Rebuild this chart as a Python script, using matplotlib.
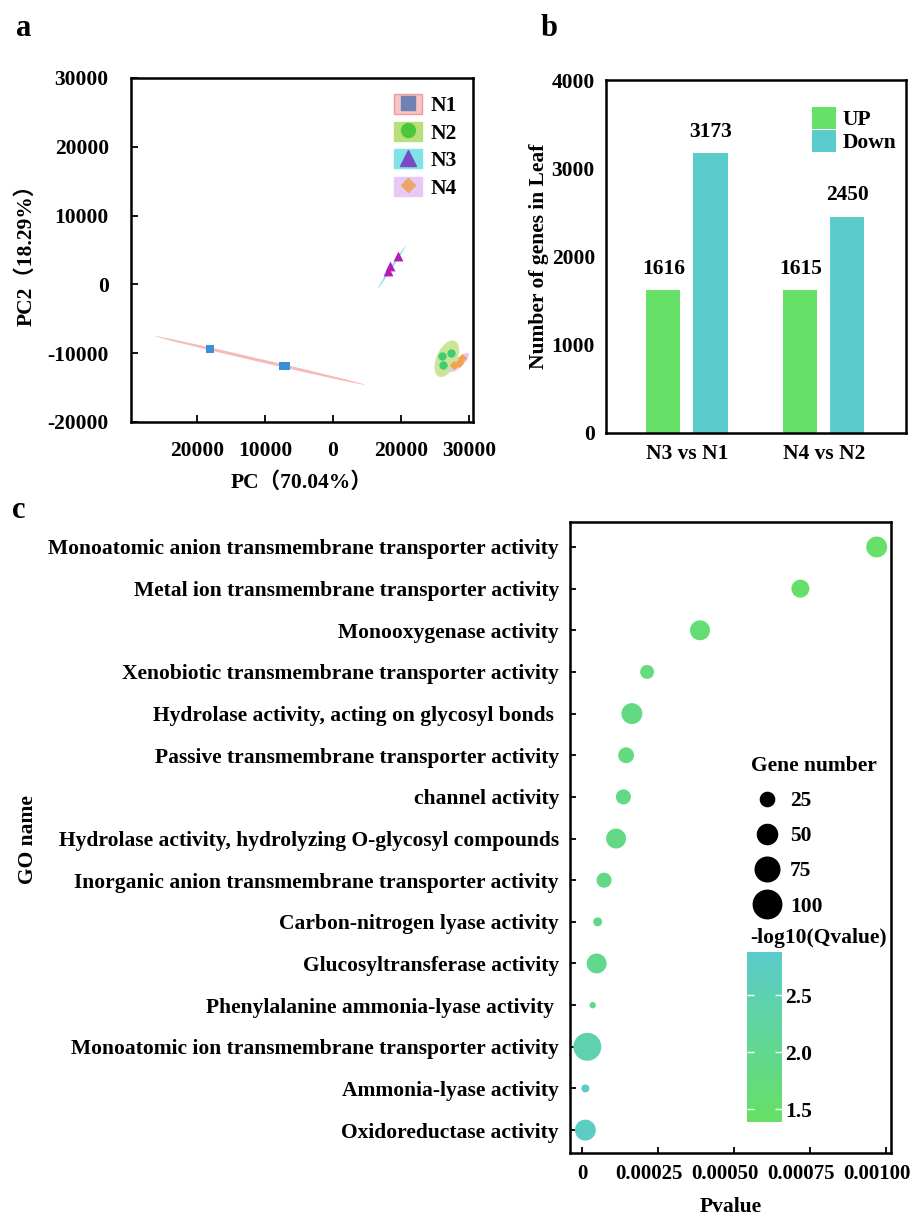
import numpy as np
import matplotlib
matplotlib.use('Agg')
import matplotlib.pyplot as plt
from matplotlib.patches import Ellipse, Patch
from matplotlib.lines import Line2D
from matplotlib.colors import LinearSegmentedColormap, Normalize
from matplotlib.legend_handler import HandlerTuple
from matplotlib.transforms import ScaledTranslation
import matplotlib.cm as cm

plt.rcParams['font.family'] = ['Liberation Serif', 'Noto Sans CJK SC']
plt.rcParams['font.weight'] = 'bold'
plt.rcParams['axes.labelweight'] = 'bold'
plt.rcParams['axes.linewidth'] = 1.6
plt.rcParams['axes.unicode_minus'] = False

# ---------------- data ----------------
# Panel a: PCA
n1_x = [-18100, -7400, -6900]
n1_y = [-9400, -11900, -11900]
n2_x = [16100, 17400, 16200]
n2_y = [-10450, -10000, -11750]
n3_x = [8040, 8330, 9500]
n3_y = [1890, 2620, 4070]
n4_x = [17850, 18550, 19000]
n4_y = [-11750, -11450, -10750]
# confidence ellipses: center x, center y, major, minor, angle
ell_cx = [-10750, 16750, 8650, 18600]
ell_cy = [-11050, -10800, 2500, -11350]
ell_major = [31700, 5700, 7430, 3800]
ell_minor = [450, 3000, 320, 1200]
ell_angle = [-12.9, 65, 56.5, 45]
pca_xticks = [-20000, -10000, 0, 10000, 20000]
pca_xticklabels = ['20000', '10000', '0', '20000', '30000']
pca_yticks = [-20000, -10000, 0, 10000, 20000, 30000]

# Panel b: DEG counts
comparisons = ['N3 vs N1', 'N4 vs N2']
up_counts = [1616, 1615]
down_counts = [3173, 2450]

# Panel c: GO enrichment
go_terms = [
    'Monoatomic anion transmembrane transporter activity',
    'Metal ion transmembrane transporter activity',
    'Monooxygenase activity',
    'Xenobiotic transmembrane transporter activity',
    'Hydrolase activity, acting on glycosyl bonds ',
    'Passive transmembrane transporter activity',
    'channel activity',
    'Hydrolase activity, hydrolyzing O-glycosyl compounds',
    'Inorganic anion transmembrane transporter activity',
    'Carbon-nitrogen lyase activity',
    'Glucosyltransferase activity',
    'Phenylalanine ammonia-lyase activity ',
    'Monoatomic ion transmembrane transporter activity',
    'Ammonia-lyase activity',
    'Oxidoreductase activity',
]
pvalues = [0.000969, 0.000718, 0.000388, 0.000214, 0.000164, 0.000145, 0.000136,
           0.000112, 0.0000724, 0.0000515, 0.0000482, 0.0000351, 0.0000175,
           0.0000110, 0.0000110]
gene_counts = [54, 40, 49, 24, 54, 31, 28, 49, 28, 10, 49, 5, 96, 8, 54]
neglog_q = [1.42, 1.45, 1.6, 1.72, 1.8, 1.8, 1.85, 1.85, 1.85, 1.9, 1.95, 2.0,
            2.45, 2.8, 2.75]
size_legend_vals = [25, 50, 75, 100]
pvalue_ticks = [0, 0.00025, 0.00050, 0.00075, 0.00100]
pvalue_ticklabels = ['0', '0.00025', '0.00050', '0.00075', '0.00100']
cbar_ticks = [1.5, 2.0, 2.5]

# ---------------- figure ----------------
W, H = 911, 1220
fig = plt.figure(figsize=(W / 100, H / 100), dpi=100)


def fr(l, t, r, b):
    return [l / W, 1 - b / H, (r - l) / W, (b - t) / H]


FS = 15.5

# ---------- panel a ----------
axa = fig.add_axes(fr(131, 78, 473, 422))
ell_colors = ['#f7b3b3', '#c6e28c', '#86e3ea', '#e6bff3']
for cx, cy, ma, mi, an, c in zip(ell_cx, ell_cy, ell_major, ell_minor, ell_angle, ell_colors):
    axa.add_patch(Ellipse((cx, cy), ma, mi, angle=an, facecolor=c, edgecolor='none', alpha=0.9, zorder=1))
axa.scatter(n1_x, n1_y, marker='s', s=40, color='#3b8fd9', zorder=3, linewidths=0)
axa.scatter(n2_x, n2_y, marker='o', s=36, color='#3dce72', zorder=3, linewidths=0)
axa.scatter(n3_x, n3_y, marker='^', s=50, color='#b21fb8', zorder=3, linewidths=0)
axa.scatter(n4_x, n4_y, marker='D', s=22, color='#f0a54a', zorder=3, linewidths=0)
axa.set_xlim(-29700, 20600)
axa.set_ylim(-20000, 30000)
axa.set_xticks(pca_xticks)
axa.set_xticklabels(pca_xticklabels)
axa.set_yticks(pca_yticks)
axa.tick_params(direction='in', length=5, width=1.3, labelsize=FS)
axa.tick_params(axis='y', pad=16)
axa.tick_params(axis='x', pad=14)
axa.set_xlabel('PC（70.04%）', fontsize=FS, labelpad=8)
axa.set_ylabel('PC2（18.29%）', fontsize=FS, labelpad=8)
for s in axa.spines.values():
    s.set_linewidth(1.8)

leg_bg = ['#f8c4c4', '#b8e07a', '#7fe3e8', '#e8c8f4']
leg_edge = ['#f19a9a', '#b8e07a', '#7fe3e8', '#e8c8f4']
leg_mc = ['#6f82b4', '#4cc63a', '#7a4cc4', '#e9a86a']
leg_mk = ['s', 'o', '^', 'D']
leg_ms = [10, 10, 11, 7]
handles = []
for bg, ed, mc, mk, ms in zip(leg_bg, leg_edge, leg_mc, leg_mk, leg_ms):
    handles.append((Patch(facecolor=bg, edgecolor=ed, linewidth=1),
                    Line2D([], [], marker=mk, color=mc, linestyle='none', markersize=ms)))
axa.legend(handles, ['N1', 'N2', 'N3', 'N4'], handler_map={tuple: HandlerTuple(ndivide=1)},
           loc='upper right', bbox_to_anchor=(0.99, 0.99), frameon=False, fontsize=FS,
           handlelength=1.3, handleheight=1.0, handletextpad=0.4, labelspacing=0.25,
           borderaxespad=0.2)

# ---------- panel b ----------
axb = fig.add_axes(fr(606, 80, 906, 433))
xb = np.arange(len(comparisons))
bw = 0.25
off = 0.172
b1 = axb.bar(xb - off, up_counts, bw, color='#66e066', label='UP')
b2 = axb.bar(xb + off, down_counts, bw, color='#5bcbcb', label='Down')
for rect, v in zip(list(b1) + list(b2), up_counts + down_counts):
    axb.text(rect.get_x() + rect.get_width() / 2, v + 130, str(v), ha='center', va='bottom',
             fontsize=FS, fontweight='bold')
axb.set_xlim(-0.59, 1.6)
axb.set_ylim(0, 4000)
axb.set_yticks([0, 1000, 2000, 3000, 4000])
axb.set_xticks(xb)
axb.set_xticklabels(comparisons)
axb.tick_params(length=0, labelsize=FS)
axb.tick_params(axis='y', pad=8)
axb.tick_params(axis='x', pad=8)
axb.set_ylabel('Number of genes in Leaf', fontsize=FS, labelpad=2)
for s in axb.spines.values():
    s.set_linewidth(1.8)
axb.legend(loc='upper right', bbox_to_anchor=(1.0, 0.95), frameon=False, fontsize=FS,
           handlelength=1.1, handleheight=1.15, handletextpad=0.3, labelspacing=0.0,
           borderaxespad=0.05)

# ---------- panel c ----------
axc = fig.add_axes(fr(570, 522, 891, 1153))
cmap = LinearSegmentedColormap.from_list('gc', ['#66e066', '#5bcbcb'])
norm = Normalize(vmin=1.39, vmax=2.88)
ypos = np.arange(len(go_terms))
SC = 4.2
axc.scatter(pvalues, ypos, s=np.array(gene_counts) * SC, c=neglog_q, cmap=cmap, norm=norm,
            linewidths=0, zorder=3)
axc.set_yticks(ypos)
axc.set_yticklabels(go_terms)
axc.set_ylim(len(go_terms) - 1 + 0.55, -0.6)
axc.set_xlim(-0.0000395, 0.001016)
axc.set_xticks(pvalue_ticks)
axc.set_xticklabels(pvalue_ticklabels)
axc.tick_params(direction='in', length=4, width=1.3, labelsize=FS)
axc.tick_params(axis='x', labelsize=15, pad=8)
axc.tick_params(axis='y', pad=8)
shift = ScaledTranslation(-9 / 100, 0, fig.dpi_scale_trans)
for lab in axc.get_xticklabels()[1:]:
    lab.set_transform(lab.get_transform() + shift)
axc.set_xlabel('Pvalue', fontsize=FS, labelpad=9)
for s in axc.spines.values():
    s.set_linewidth(1.8)
fig.text(28 / W, 1 - 840 / H, 'GO name', rotation=90, ha='center', va='center',
         fontsize=FS, fontweight='bold')

size_handles = [Line2D([], [], marker='o', color='black', linestyle='none',
                       markersize=np.sqrt(v * SC)) for v in size_legend_vals]
lg = axc.legend(size_handles, [str(v) for v in size_legend_vals], title='Gene number',
                title_fontproperties={'size': FS, 'weight': 'bold'},
                loc='upper left', bbox_to_anchor=(751 / W, 1 - 756 / H), bbox_transform=fig.transFigure,
                frameon=False, fontsize=FS, labelspacing=0.7, handletextpad=0.3,
                borderpad=0, borderaxespad=0, handlelength=1.5)
lg._legend_box.align = 'left'

cax = fig.add_axes(fr(747, 952, 782, 1122))
cb = fig.colorbar(cm.ScalarMappable(norm=norm, cmap=cmap), cax=cax, ticks=cbar_ticks)
cb.outline.set_visible(False)
cax.tick_params(direction='in', color='white', length=5, width=1, left=True, right=True,
                labelright=True, labelsize=FS, pad=2)
cax.set_yticklabels(['1.5', '2.0', '2.5'])
fig.text(750 / W, 1 - 938 / H, '-log10(Qvalue)', ha='left', va='center', fontsize=FS,
         fontweight='bold')

# panel letters
fig.text(16 / W, 1 - 28 / H, 'a', fontsize=22, fontweight='bold', va='center')
fig.text(541 / W, 1 - 28 / H, 'b', fontsize=22, fontweight='bold', va='center')
fig.text(12 / W, 1 - 510 / H, 'c', fontsize=22, fontweight='bold', va='center')

fig.savefig('out.png', dpi=100)
